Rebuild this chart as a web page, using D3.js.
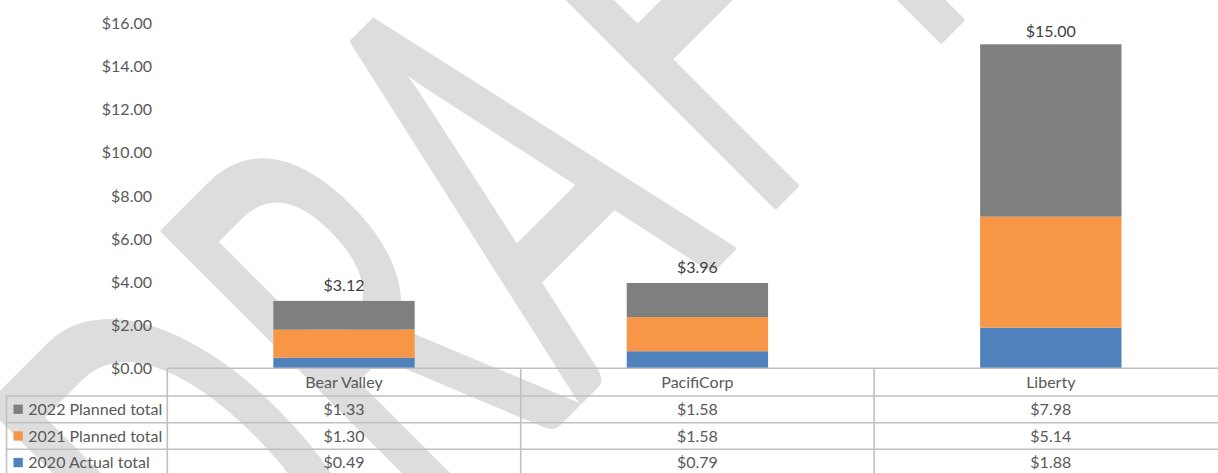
<!DOCTYPE html>
<html>
<head>
<meta charset="utf-8">
<script src="https://cdn.jsdelivr.net/npm/d3@7"></script>
<style>
  html, body { margin: 0; padding: 0; background: #fff; overflow: hidden; }
  text { font-family: Lato, "Open Sans", sans-serif; }
</style>
</head>
<body>
<svg id="chart" width="1218" height="473"></svg>
<script>
const categories = ["Bear Valley", "PacifiCorp", "Liberty"];
const seriesKeys = ["2020 Actual total", "2021 Planned total", "2022 Planned total"];
const actual2020 = [0.49, 0.79, 1.88];
const planned2021 = [1.30, 1.58, 5.14];
const planned2022 = [1.33, 1.58, 7.98];
const totalLabels = ["$3.12", "$3.96", "$15.00"];
const yTicks = [0, 2, 4, 6, 8, 10, 12, 14, 16];
const colors = {
  "2020 Actual total": "#4f81bd",
  "2021 Planned total": "#f79646",
  "2022 Planned total": "#7f7f7f"
};
const TEXT = "#595959";
const GRID = "#bfbfbf";

const W = 1218, H = 473;
const plotLeft = 167.3, plotRight = 1227.5;
const plotTop = 22.7, plotBottom = 368.3;

const svg = d3.select("#chart");

// watermark first, so everything else sits on top of it
const WM_SIZE = 580, WM_SQUEEZE = 0.56;
const wm = svg.append("text")
  .text("DRAFT")
  .attr("font-size", WM_SIZE)
  .attr("fill", "#dddddd")
  .attr("stroke", "#dddddd")
  .attr("stroke-width", 5)
  .attr("stroke-linejoin", "round")
  .attr("dx", "0 0 0 48 0")
  .attr("x", 0).attr("y", 0);
{
  const node = wm.node();
  const cx = node.getStartPositionOfChar(2).x + node.getSubStringLength(2, 1) / 2;
  // baseline middle of the "A" sits at this point of the page
  wm.attr("transform",
    `translate(657,325) rotate(-45) scale(${WM_SQUEEZE},1) translate(${-cx},0)`);
}

const rows = categories.map((cat, i) => ({
  category: cat,
  "2020 Actual total": actual2020[i],
  "2021 Planned total": planned2021[i],
  "2022 Planned total": planned2022[i]
}));

const x = d3.scaleBand()
  .domain(categories)
  .range([plotLeft, plotRight])
  .paddingInner(0.6)
  .paddingOuter(0.3);

const y = d3.scaleLinear().domain([0, 16]).range([plotBottom, plotTop]);

const stacked = d3.stack().keys(seriesKeys)(rows);

// y axis labels
const yAxis = d3.axisLeft(y)
  .tickValues(yTicks)
  .tickSize(0)
  .tickPadding(0)
  .tickFormat(d => "$" + d.toFixed(2));

svg.append("g")
  .attr("transform", `translate(152,0)`)
  .call(yAxis)
  .call(g => g.select(".domain").remove())
  .call(g => g.selectAll("text")
    .attr("fill", TEXT)
    .attr("font-size", 16)
    .attr("font-family", "Lato")
    .attr("dy", "0.35em"));

// bars
svg.append("g")
  .selectAll("g")
  .data(stacked)
  .join("g")
  .attr("fill", d => colors[d.key])
  .selectAll("rect")
  .data(d => d)
  .join("rect")
  .attr("x", d => x(d.data.category))
  .attr("width", x.bandwidth())
  .attr("y", d => y(d[1]))
  .attr("height", d => y(d[0]) - y(d[1]));

// total labels
const topLayer = stacked[stacked.length - 1];
svg.append("g")
  .selectAll("text")
  .data(topLayer)
  .join("text")
  .attr("x", d => x(d.data.category) + x.bandwidth() / 2)
  .attr("y", d => Math.max(y(d[1]) - 16, 31))
  .attr("dy", "0.35em")
  .attr("text-anchor", "middle")
  .attr("font-size", 16)
  .attr("fill", "#404040")
  .text((d, i) => totalLabels[i]);

// data table
const tableLeft = 6.5;
const headerTop = plotBottom;
const rowTops = [396, 422.7, 449.3];
const rowH = 26.6;
const tableRows = [
  { key: "2022 Planned total", values: planned2022 },
  { key: "2021 Planned total", values: planned2021 },
  { key: "2020 Actual total", values: actual2020 }
];

const tbl = svg.append("g");
const colEdges = categories.map(c => x(c) - x.step() * x.paddingInner() / 2)
  .concat([plotRight]);
colEdges[0] = plotLeft;

tbl.append("line")
  .attr("x1", plotLeft).attr("x2", W + 20)
  .attr("y1", headerTop).attr("y2", headerTop);
rowTops.forEach(t => {
  tbl.append("line")
    .attr("x1", tableLeft).attr("x2", W + 20)
    .attr("y1", t).attr("y2", t);
});
colEdges.forEach(cx => {
  tbl.append("line")
    .attr("x1", cx).attr("x2", cx)
    .attr("y1", headerTop).attr("y2", H + 10);
});
tbl.append("line")
  .attr("x1", tableLeft).attr("x2", tableLeft)
  .attr("y1", rowTops[0]).attr("y2", H + 10);
tbl.selectAll("line").attr("stroke", GRID).attr("stroke-width", 1.6);

// header labels
tbl.selectAll("text.cat")
  .data(categories)
  .join("text")
  .attr("class", "cat")
  .attr("x", d => x(d) + x.bandwidth() / 2)
  .attr("y", (headerTop + rowTops[0]) / 2)
  .attr("dy", "0.35em")
  .attr("text-anchor", "middle")
  .attr("font-size", 16)
  .attr("fill", TEXT)
  .text(d => d);

// table rows
const rowG = tbl.selectAll("g.row")
  .data(tableRows)
  .join("g")
  .attr("class", "row")
  .attr("transform", (d, i) => `translate(0,${rowTops[i] + rowH / 2})`);

rowG.append("rect")
  .attr("x", 13.5).attr("y", -4.7)
  .attr("width", 9.3).attr("height", 9.3)
  .attr("fill", d => colors[d.key]);

rowG.append("text")
  .attr("x", 28.3)
  .attr("dy", "0.35em")
  .attr("font-size", 16)
  .attr("fill", TEXT)
  .text(d => d.key);

rowG.selectAll("text.val")
  .data(d => d.values)
  .join("text")
  .attr("class", "val")
  .attr("x", (d, i) => x(categories[i]) + x.bandwidth() / 2)
  .attr("dy", "0.35em")
  .attr("text-anchor", "middle")
  .attr("font-size", 16)
  .attr("fill", TEXT)
  .text(d => "$" + d.toFixed(2));
</script>
</body>
</html>
